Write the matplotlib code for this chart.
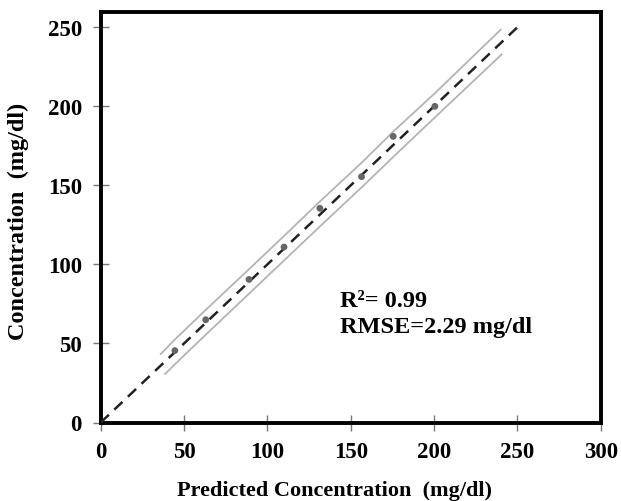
import matplotlib
matplotlib.use("Agg")
import matplotlib.pyplot as plt

plt.rcParams['font.family'] = ['Liberation Serif', 'DejaVu Serif']
plt.rcParams['font.weight'] = 'bold'

predicted = [44.5, 63, 89, 110, 131.5, 156.5, 175.5, 200.5]
measured = [45.5, 65, 90.5, 111, 135.5, 155.5, 181, 200]

upper_x = [36, 44.5, 63, 89, 110, 131.5, 156.5, 175.5, 200.5, 240]
upper_y = [43.3, 52.5, 71.2, 97, 118, 139.8, 164.3, 184, 208.3, 248.5]
lower_x = [38.6, 44.5, 63, 89, 110, 131.5, 156.5, 175.5, 200.5, 240.5]
lower_y = [30.7, 36.8, 55.5, 81.5, 102.5, 124, 148.7, 168, 193, 232.8]

ideal_x = [0, 250]
ideal_y = [0, 250]

xticks = [0, 50, 100, 150, 200, 250, 300]
yticks = [0, 50, 100, 150, 200, 250]

fig = plt.figure(figsize=(6.21, 5.02), dpi=100)
ax = fig.add_axes([100.7/621, (502-423.5)/502, 500/621, 411/502])

ax.plot(upper_x, upper_y, color='#b4b4b4', lw=1.3, zorder=2)
ax.plot(lower_x, lower_y, color='#b4b4b4', lw=1.3, zorder=2)
ax.plot(ideal_x, ideal_y, color='#222222', lw=1.8, ls=(0, (4.5, 3)), zorder=3)
ax.scatter(predicted, measured, s=24, color='#666666', zorder=4, edgecolors='none')

ax.set_xlim(0, 300)
ax.set_ylim(0, 260)
ax.set_xticks(xticks)
ax.set_yticks(yticks)
ax.tick_params(direction='inout', length=11, width=1, color='#777777',
               labelsize=16.5, pad=8)
for lab in ax.get_xticklabels() + ax.get_yticklabels():
    lab.set_fontweight('bold')
for sp in ax.spines.values():
    sp.set_linewidth(2.8)
    sp.set_color('black')

fig.text(340/621, 1 - 307/502, 'R²= 0.99', fontsize=17.5, fontweight='bold',
         va='baseline', ha='left')
fig.text(340/621, 1 - 333/502, 'RMSE=2.29 mg/dl', fontsize=17.5, fontweight='bold',
         va='baseline', ha='left')

fig.text(335/621, 1 - 491/502, 'Predicted Concentration  (mg/dl)', fontsize=16,
         fontweight='bold', ha='center', va='center')
fig.text(18/621, 1 - 221/502, 'Concentration  (mg/dl)', fontsize=17.5,
         fontweight='bold', ha='center', va='center', rotation=90)

fig.savefig('out.png', dpi=100)
